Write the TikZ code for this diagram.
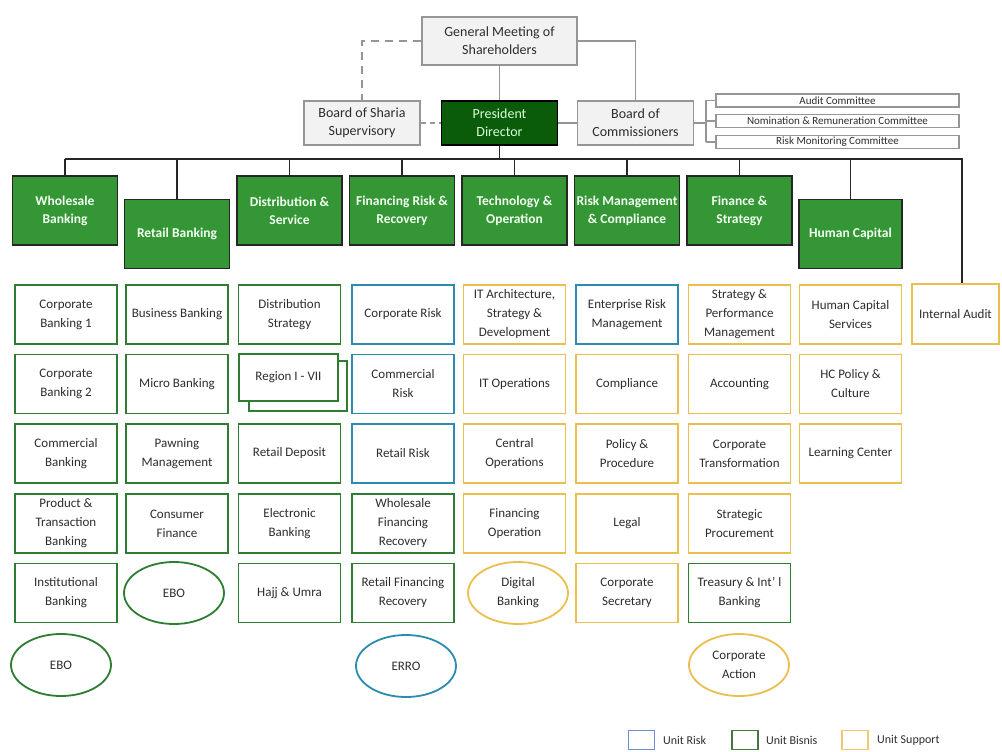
\documentclass[tikz,border=0pt]{standalone}
\usepackage{fontspec}
\setmainfont{Carlito}
\usetikzlibrary{shapes.geometric}
\definecolor{cGreen}{RGB}{46,125,50}
\definecolor{cHead}{RGB}{52,150,52}
\definecolor{cBlue}{RGB}{43,140,176}
\definecolor{cYel}{RGB}{236,190,80}
\definecolor{cLegBlue}{RGB}{110,140,215}
\definecolor{cLegGreen}{RGB}{70,120,70}
\definecolor{cLegYel}{RGB}{240,200,110}
\definecolor{cGrayBox}{RGB}{242,242,242}
\definecolor{cGrayLine}{RGB}{150,150,150}
\definecolor{cText}{RGB}{45,45,45}
\definecolor{cPres}{RGB}{10,92,10}
\tikzset{
  topbox/.style={draw=cGrayLine, line width=1.6pt, fill=cGrayBox, text=cText, align=center, font=\fontsize{14}{18}\selectfont, minimum width=116pt, minimum height=44pt, inner sep=1pt},
  headbox/.style={draw=black!85, line width=1.6pt, fill=cHead, text=green!5, align=center, font=\fontsize{13.5}{18}\selectfont\bfseries, minimum width=105pt, minimum height=69pt, inner sep=1pt},
  sub/.style={line width=1.8pt, fill=white, text=cText, align=center, font=\fontsize{13}{19}\selectfont, minimum width=102pt, minimum height=59pt, inner sep=1pt},
  gsub/.style={sub, draw=cGreen},
  bsub/.style={sub, draw=cBlue},
  ysub/.style={sub, draw=cYel},
  oval/.style={ellipse, line width=1.8pt, fill=white, text=cText, align=center, font=\fontsize{13}{19}\selectfont, minimum width=100pt, minimum height=62pt, inner sep=0pt},
  cmt/.style={draw=cGrayLine, line width=1.4pt, fill=white, text=cText, font=\fontsize{11}{12}\selectfont, minimum width=243pt, minimum height=13pt, inner sep=0pt},
  conn/.style={draw=black!85, line width=1.8pt},
  gconn/.style={draw=cGrayLine, line width=1.8pt},
  legbox/.style={line width=1.4pt, minimum width=26pt, minimum height=19pt, inner sep=0pt},
  legtxt/.style={anchor=west, text=cText, font=\fontsize{12}{14}\selectfont, inner sep=0pt}
}
\begin{document}
\begin{tikzpicture}[x=1pt,y=-1pt]
\useasboundingbox[fill=white] (0,0) rectangle (1002,752);

% top level
\node[topbox, minimum width=155pt, minimum height=48pt] (gm) at (499.5,41) {General Meeting of\\Shareholders};
\node[topbox] (bs) at (362,123) {Board of Sharia\\Supervisory};
\node[topbox, fill=cPres, draw=black, text=green!15!white] (pd) at (499.5,123) {President\\Director};
\node[topbox] (bc) at (635.5,123) {Board of\\Commissioners};

\node[cmt] (ac) at (837.5,100.5) {Audit Committee};
\node[cmt] (nr) at (837.5,121) {Nomination \& Remuneration Committee};
\node[cmt] (rm) at (837.5,142) {Risk Monitoring Committee};

\draw[gconn, dashed, dash pattern=on 8pt off 6pt] (gm.west) -| (bs.north);
\draw[gconn, dashed, dash pattern=on 5pt off 4pt] (bs.east) -- (pd.west);
\draw[gconn] (gm.south) -- (pd.north);
\draw[gconn] (gm.east) -| (bc.north);
\draw[gconn] (pd.east) -- (bc.west);
\coordinate (brk) at (706,123);
\draw[gconn, line width=1.2pt] (bc.east) -- (brk);
\draw[gconn, line width=1.2pt] (brk |- ac.west) -- (brk |- rm.west);
\draw[gconn, line width=1.2pt] (brk |- ac.west) -- (ac.west);
\draw[gconn, line width=1.2pt] (brk |- nr.west) -- (nr.west);
\draw[gconn, line width=1.2pt] (brk |- rm.west) -- (rm.west);

% headers
\node[headbox] (wb) at (65,210.5) {Wholesale\\Banking};
\node[headbox] (rb) at (177,234) {Retail Banking};
\node[headbox] (ds) at (289.5,210.5) {Distribution \&\\Service};
\node[headbox] (fr) at (402,210.5) {Financing Risk \&\\Recovery};
\node[headbox] (to) at (514.5,210.5) {Technology \&\\Operation};
\node[headbox] (rc) at (627,210.5) {Risk Management\\\& Compliance};
\node[headbox] (fs) at (739.5,210.5) {Finance \&\\Strategy};
\node[headbox, minimum width=103pt] (hc) at (850.5,234) {Human Capital};
\node[ysub, minimum width=87pt, minimum height=60pt] (ia) at (955.5,314) {Internal Audit};

\coordinate (busL) at (65,159);
\coordinate (busR) at (962,159);
\draw[conn] (pd.south) -- (pd.south |- busL);
\draw[conn] (busL) -- (busR) -- (busR |- ia.north);
\foreach \h in {wb,rb,ds,fr,to,rc,fs,hc} \draw[conn] (\h.north) -- (\h.north |- busL);

% column 1
\node[gsub] (w1) at (66,314.5) {Corporate\\Banking 1};
\node[gsub] (w2) at (66,384) {Corporate\\Banking 2};
\node[gsub] (w3) at (66,453.5) {Commercial\\Banking};
\node[gsub] (w4) at (66,523.5) {Product \&\\Transaction\\Banking};
\node[gsub] (w5) at (66,593) {Institutional\\Banking};
\node[oval, draw=cGreen] (w6) at (61,665) {EBO};

% column 2
\node[gsub] (r1) at (177,314.5) {Business Banking};
\node[gsub] (r2) at (177,384) {Micro Banking};
\node[gsub] (r3) at (177,453.5) {Pawning\\Management};
\node[gsub] (r4) at (177,523.5) {Consumer\\Finance};
\node[oval, draw=cGreen] (r5) at (174,593) {EBO};

% column 3
\node[gsub] (d1) at (289.5,314.5) {Distribution\\Strategy};
\node[gsub, minimum width=98pt, minimum height=50pt] (d2b) at (298,386) {};
\node[gsub, minimum width=99pt, minimum height=47pt] (d2) at (288.5,377.5) {Region I - VII};
\node[gsub] (d3) at (289.5,453.5) {Retail Deposit};
\node[gsub] (d4) at (289.5,523.5) {Electronic\\Banking};
\node[gsub] (d5) at (289.5,593) {Hajj \& Umra};

% column 4
\node[bsub] (f1) at (403,314.5) {Corporate Risk};
\node[bsub] (f2) at (403,384) {Commercial\\Risk};
\node[bsub] (f3) at (403,453.5) {Retail Risk};
\node[gsub] (f4) at (403,523.5) {Wholesale\\Financing\\Recovery};
\node[gsub] (f5) at (403,593) {Retail Financing\\Recovery};
\node[oval, draw=cBlue] (f6) at (406,666) {ERRO};

% column 5
\node[ysub] (t1) at (514.5,314.5) {IT Architecture,\\Strategy \&\\Development};
\node[ysub] (t2) at (514.5,384) {IT Operations};
\node[ysub] (t3) at (514.5,453.5) {Central\\Operations};
\node[ysub] (t4) at (514.5,523.5) {Financing\\Operation};
\node[oval, draw=cYel] (t5) at (518,593) {Digital\\Banking};

% column 6
\node[bsub] (c1) at (627,314.5) {Enterprise Risk\\Management};
\node[ysub] (c2) at (627,384) {Compliance};
\node[ysub] (c3) at (627,453.5) {Policy \&\\Procedure};
\node[ysub] (c4) at (627,523.5) {Legal};
\node[ysub] (c5) at (627,593) {Corporate\\Secretary};

% column 7
\node[ysub] (s1) at (739.5,314.5) {Strategy \&\\Performance\\Management};
\node[ysub] (s2) at (739.5,384) {Accounting};
\node[ysub] (s3) at (739.5,453.5) {Corporate\\Transformation};
\node[ysub] (s4) at (739.5,523.5) {Strategic\\Procurement};
\node[gsub] (s5) at (739.5,593) {Treasury \& Int' l\\Banking};
\node[oval, draw=cYel] (s6) at (739,665) {Corporate\\Action};

% column 8
\node[ysub] (h1) at (850.5,314.5) {Human Capital\\Services};
\node[ysub] (h2) at (850.5,384) {HC Policy \&\\Culture};
\node[ysub] (h3) at (850.5,453.5) {Learning Center};

% legend
\node[legbox, draw=cLegBlue] (lb) at (641.5,740) {};
\node[legtxt] (lbt) at (663,740) {Unit Risk};
\node[legbox, draw=cLegGreen] (lg) at (745,740) {};
\node[legtxt] (lgt) at (766,740) {Unit Bisnis};
\node[legbox, draw=cLegYel] (ly) at (855,740) {};
\node[legtxt] (lyt) at (877,740) {Unit Support};
\end{tikzpicture}
\end{document}
